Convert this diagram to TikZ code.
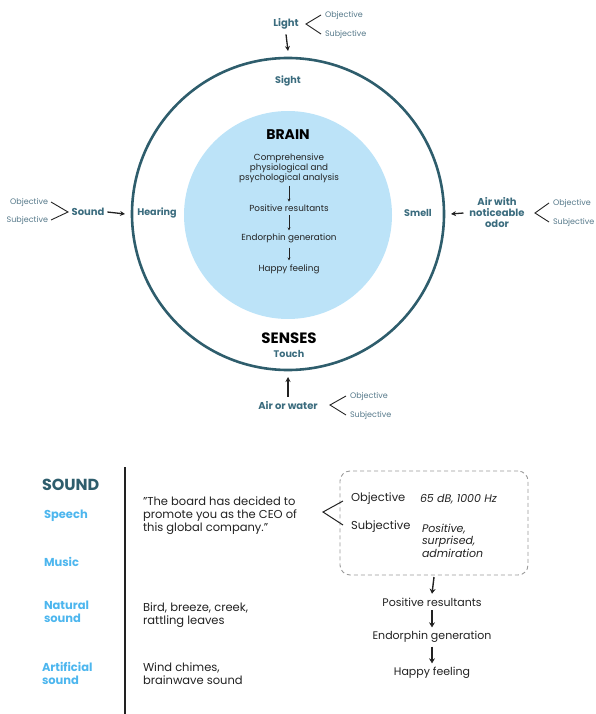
\documentclass[tikz,border=0pt]{standalone}
\usepackage{fontspec}
\setmainfont{Poppins}
\usetikzlibrary{arrows.meta}
\definecolor{tealA}{HTML}{2E5D6C}
\definecolor{tealB}{HTML}{3B6C7E}
\definecolor{tealC}{HTML}{56798A}
\definecolor{lblue}{HTML}{BCE3F8}
\definecolor{sblue}{HTML}{4DB6EE}
\definecolor{ink}{HTML}{222222}
\begin{document}
\begin{tikzpicture}[x=1pt,y=-1pt,
  every node/.style={inner sep=0pt, outer sep=0pt},
  oslab/.style={font=\fontsize{8}{9}\selectfont, text=tealC},
  stim/.style={font=\fontsize{10}{11}\selectfont\bfseries, text=tealB, align=center},
  sense/.style={font=\fontsize{9.6}{10}\selectfont\bfseries, text=tealB},
  btext/.style={font=\fontsize{8.8}{10}\selectfont, text=ink, align=center},
  bigarrow/.style={-{Stealth[length=5pt,width=5pt]}, line width=1.3pt, ink},
  smallarrow/.style={-{Stealth[length=3pt,width=3pt]}, line width=0.7pt, ink},
  chev/.style={line width=0.9pt, ink},
  cat/.style={font=\fontsize{11.5}{13}\selectfont\bfseries, text=sblue, align=left, anchor=west},
  rtext/.style={font=\fontsize{11.5}{13}\selectfont, text=ink, align=left, anchor=west},
  flow/.style={font=\fontsize{11}{12}\selectfont, text=ink},
  flowarrow/.style={-{Stealth[length=5pt,width=6pt]}, line width=1.4pt, ink}
]
\useasboundingbox (0,0) rectangle (595,714);

% circles
\node (outer) [circle, draw=tealA, line width=2.6pt, minimum size=312pt] at (288,214) {};
\node (inner) [circle, fill=lblue, minimum size=208pt] at (288,215) {};

% sense labels
\node (sight) [sense] at (288,81) {Sight};
\node (hearing) [sense] at (157,213) {Hearing};
\node (smell) [sense] at (418,213) {Smell};
\node (senses) [font=\fontsize{15}{16}\selectfont\bfseries, text=black] at (289,338) {SENSES};
\node (touch) [sense] at (289,354) {Touch};

% brain contents
\node (brain) [font=\fontsize{14}{16}\selectfont\bfseries, text=black] at (288,135) {BRAIN};
\node (comp) [btext] at (289,168) {Comprehensive\\physiological and\\psychological analysis};
\node (pos) [btext] at (289,208) {Positive resultants};
\node (endo) [btext] at (289,238) {Endorphin generation};
\node (happy) [btext] at (289,269) {Happy feeling};
\draw[smallarrow] ([yshift=-3pt]comp.south) -- ([yshift=3pt]pos.north);
\draw[smallarrow] ([yshift=-4pt]pos.south) -- ([yshift=3pt]endo.north);
\draw[smallarrow] ([yshift=-5pt]endo.south) -- ([yshift=4pt]happy.north);

% Light (top)
\node (light) [stim] at (286,24) {Light};
\node (lo) [oslab, anchor=west] at (325,15) {Objective};
\node (ls) [oslab, anchor=west] at (325,34) {Subjective};
\coordinate (lc) at (306,24);
\draw[chev] ([xshift=-4pt]lo.west) -- (lc) -- ([xshift=-4pt]ls.west);
\draw[bigarrow] ([yshift=-5pt]light.south) -- ([yshift=7pt]outer.north);

% Sound (left)
\node (sound) [stim] at (88,212) {Sound};
\node (so) [oslab, anchor=east] at (48,202) {Objective};
\node (ss) [oslab, anchor=east] at (48,220) {Subjective};
\coordinate (sc) at (68,212);
\draw[chev] ([xshift=3pt]so.east) -- (sc) -- ([xshift=3pt]ss.east);
\draw[bigarrow] ([xshift=3pt]sound.east) -- ([xshift=-7pt]outer.west);

% Air with noticeable odor (right)
\node (odor) [stim] at (497,213) {Air with\\noticeable\\odor};
\node (oo) [oslab, anchor=west] at (553,203) {Objective};
\node (os) [oslab, anchor=west] at (553,222) {Subjective};
\coordinate (oc) at (535,213);
\draw[chev] ([xshift=-4pt]oo.west) -- (oc) -- ([xshift=-4pt]os.west);
\draw[bigarrow] ([xshift=-6pt]odor.west) -- ([xshift=7pt]outer.east);

% Air or water (bottom)
\node (water) [stim] at (288,406) {Air or water};
\node (wo) [oslab, anchor=west] at (350,396) {Objective};
\node (ws) [oslab, anchor=west] at (350,415) {Subjective};
\coordinate (wc) at (330,405);
\draw[chev] ([xshift=-4pt]wo.west) -- (wc) -- ([xshift=-4pt]ws.west);
\draw[bigarrow] ([yshift=5pt]water.north) -- ([yshift=-7pt]outer.south);

% ---------- bottom section ----------
\coordinate (vtop) at (125,467);
\coordinate (vbot) at (125,714);
\draw[line width=1.5pt, ink] (vtop) -- (vbot);

\node (soundh) [font=\fontsize{16}{17}\selectfont\bfseries, text=tealA, anchor=west] at (42,485) {SOUND};
\node (speech) [cat] at (44,516) {Speech};
\node (music) [cat] at (44,562) {Music};
\node (natural) [cat] at (44,612) {Natural\\sound};
\node (artif) [cat] at (42,673) {Artificial\\sound};

\node (quote) [rtext] at (143,516) {"The board has decided to\\promote you as the CEO of\\this global company."};
\node (bird) [rtext] at (143,615) {Bird, breeze, creek,\\rattling leaves};
\node (wind) [rtext] at (143,674) {Wind chimes,\\brainwave sound};

% dashed box
\node (box) [draw=gray!80, dash pattern=on 4pt off 3pt, line width=0.9pt, rounded corners=10pt, minimum width=188pt, minimum height=104pt] at (434,523) {};
\node (bo) [rtext] at (351,499) {Objective};
\node (bs) [rtext] at (351,527) {Subjective};
\node (bov) [rtext, font=\fontsize{11}{13}\selectfont\itshape] at (420,499) {65 dB, 1000 Hz};
\node (bsv) [rtext, font=\fontsize{11}{12.5}\selectfont\itshape, anchor=north west] at (422,524) {Positive,\\surprised,\\admiration};
\coordinate (bc) at (323,512);
\draw[chev, line width=1pt] ([xshift=-8pt,yshift=-2pt]bo.west) -- (bc) -- ([xshift=-8pt,yshift=2pt]bs.west);

\node (fpos) [flow] at (432,602) {Positive resultants};
\node (fendo) [flow] at (432,637) {Endorphin generation};
\node (fhappy) [flow] at (432,673) {Happy feeling};
\draw[flowarrow] ([yshift=-2pt]box.south) -- ([yshift=4pt]fpos.north);
\draw[flowarrow] ([yshift=-4pt]fpos.south) -- ([yshift=4pt]fendo.north);
\draw[flowarrow] ([yshift=-4pt]fendo.south) -- ([yshift=4pt]fhappy.north);
\end{tikzpicture}
\end{document}
